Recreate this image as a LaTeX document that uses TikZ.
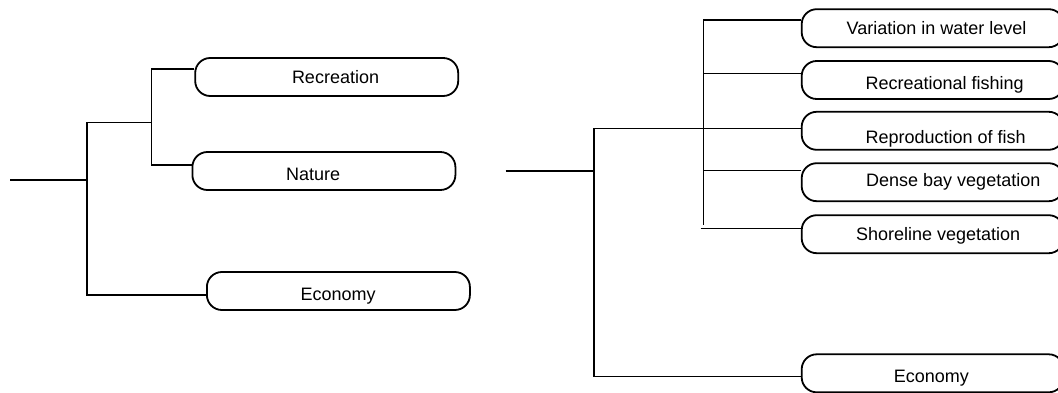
\documentclass[tikz,border=0pt]{standalone}
\usepackage{fontspec}
\setmainfont{Liberation Sans}
\begin{document}
\begin{tikzpicture}[x=1pt,y=-1pt,
  pill/.style={draw=black,line width=1.8pt,rounded corners=15pt,minimum width=263pt,minimum height=38pt,inner sep=0pt},
  rpill/.style={pill,minimum width=262pt},
  lbl/.style={anchor=base west,inner sep=0pt,font=\fontsize{18}{21}\selectfont},
  conn/.style={draw=black,line width=1.2pt}]
\useasboundingbox (0,0) rectangle (1058,393);
\clip (0,0) rectangle (1058,393);
% ---- left tree ----
\node[pill] (rec) at (326.7,77) {};
\node[pill] (nat) at (323.9,171) {};
\node[pill] (eco) at (338.4,291) {};
\node[lbl] (recT) at (291.8,83.3) {Recreation};
\node[lbl] (natT) at (286,180) {Nature};
\node[lbl] (ecoT) at (300.4,300) {Economy};
\coordinate (recA) at ([yshift=8pt]rec.west);
\coordinate (natA) at ([yshift=6pt]nat.west);
\coordinate (ecoA) at ([yshift=-4pt]eco.west);
\coordinate (L0) at (10,180);
\coordinate (LT) at (87,122.7);
\coordinate (LI) at (151.7,122.7);
\draw[conn] (L0) -- (L0 -| LT);
\draw[conn] (ecoA) -| (LT) -- (LI);
\draw[conn] (recA) -| (natA -| LI) -- (natA);
% ---- right tree ----
\node[rpill] (var) at (932.7,28.2) {};
\node[rpill] (fish) at (932.7,80) {};
\node[rpill] (rep) at (932.7,130.8) {};
\node[rpill] (dense) at (932.7,182.2) {};
\node[rpill] (shore) at (932.7,234.2) {};
\node[rpill] (eco2) at (932.7,373.3) {};
\node[lbl] (varT) at (846.5,35) {Variation in water level};
\node[lbl] (fishT) at (865.3,89.3) {Recreational fishing};
\node[lbl] (repT) at (865.3,143.3) {Reproduction of fish};
\node[lbl] (denseT) at (866,186.7) {Dense bay vegetation};
\node[lbl] (shoreT) at (855.8,240) {Shoreline vegetation};
\node[lbl] (eco2T) at (893.6,382.3) {Economy};
\coordinate (varA) at ([yshift=8.2pt]var.west);
\coordinate (fishA) at ([yshift=6.7pt]fish.west);
\coordinate (repA) at ([yshift=2.5pt]rep.west);
\coordinate (denseA) at ([yshift=11.3pt]dense.west);
\coordinate (shoreA) at ([yshift=5.9pt]shore.west);
\coordinate (eco2A) at ([yshift=-3.4pt]eco2.west);
\coordinate (R0) at (505.7,171);
\coordinate (RT) at (594,128.3);
\coordinate (RB) at (703.3,225);
\coordinate (RS) at (700.7,228.3);
\draw[conn] (R0) -- (R0 -| RT);
\draw[conn] (eco2A) -| (RT) -- (repA);
\draw[conn] (varA) -| (RB);
\draw[conn] (fishA) -- (fishA -| RB);
\draw[conn] (denseA) -- (denseA -| RB);
\draw[conn] (RS) -- (RS -| shoreA);
\end{tikzpicture}
\end{document}
